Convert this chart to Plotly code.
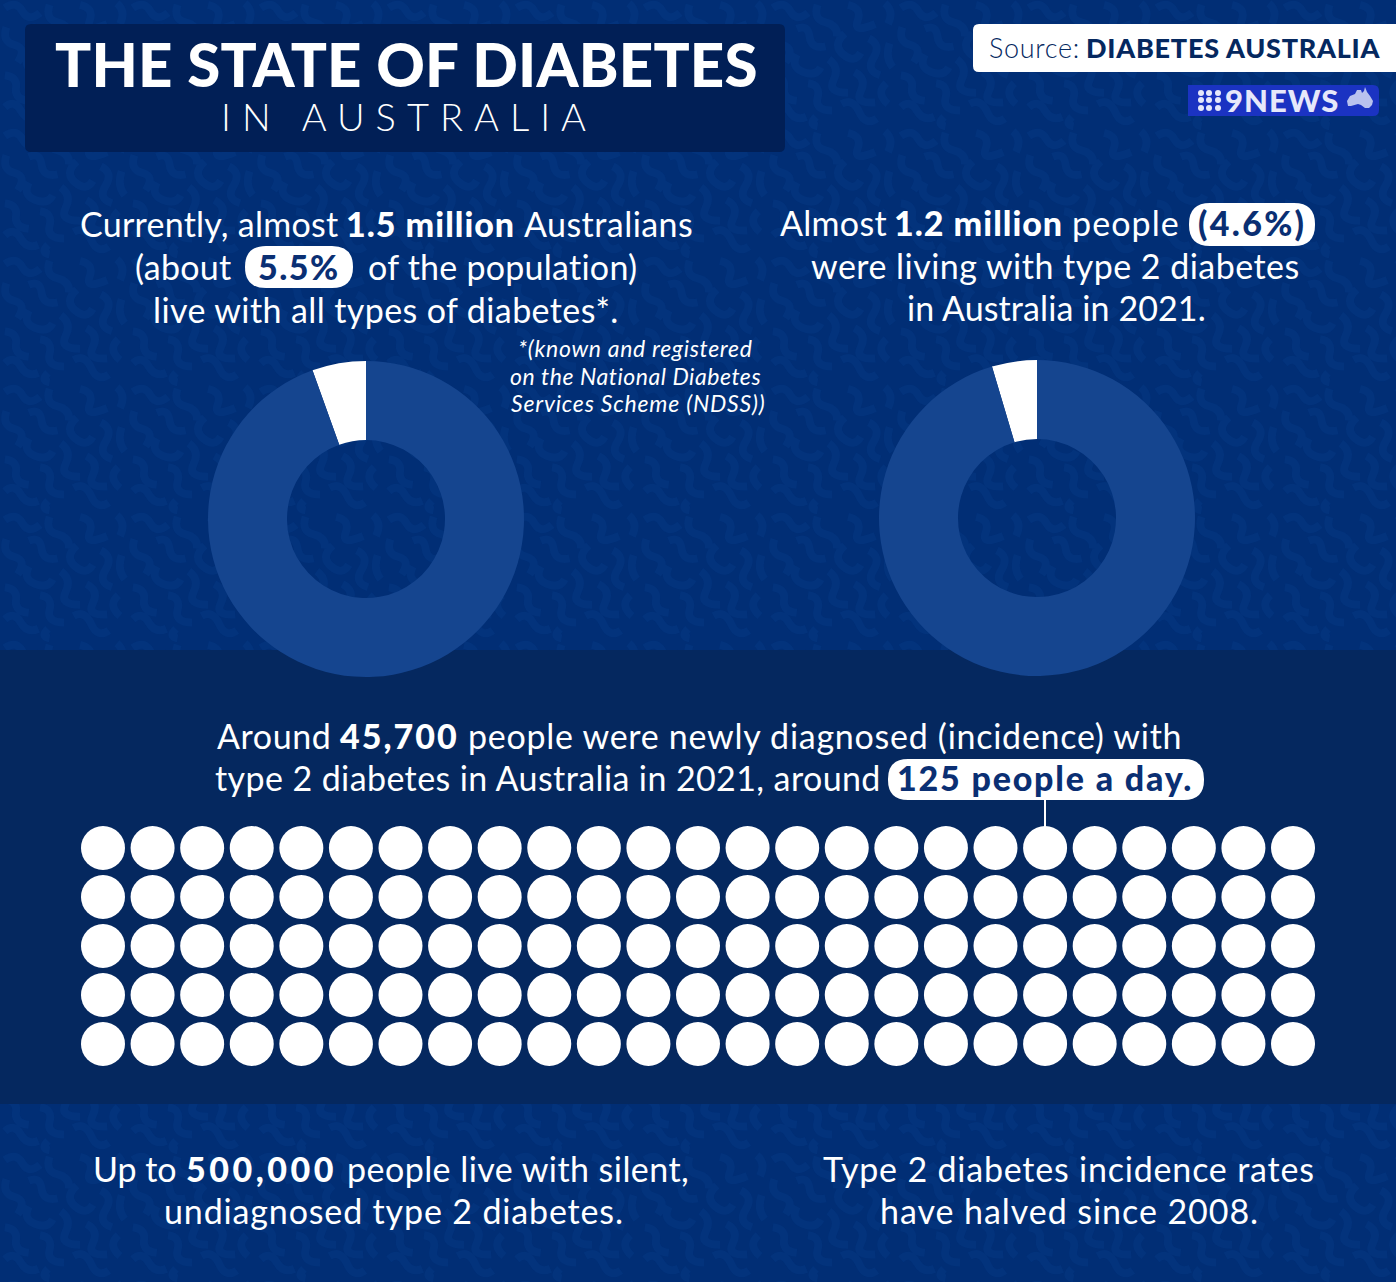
import plotly.graph_objects as go

WIDTH = 1396
HEIGHT = 1282

BG = "#012e75"
BG_LIGHT = "#03337c"
BAND = "#05285f"
TITLE_BOX = "#011f56"
NAVY = "#05285f"
RING = "#15458f"
FONT = "Lato"

# share of the population, in percent
all_types_share = [5.5, 94.5]
type2_share = [4.6, 95.4]
pie_labels = ["With diabetes", "Other"]

# one dot per person diagnosed a day (125)
dot_columns = list(range(1, 26))
dot_rows = list(range(1, 6))

title_main = "THE STATE OF DIABETES"
title_sub = "IN AUSTRALIA"

# text runs: text, left px, right px, baseline px, style, tracking px
body_runs = [
    ("Currently, almost", 80, 338, 237, "r", 0.25),
    ("1.5 million", 346, 514, 237, "b", 1),
    ("Australians", 524, 692, 237, "r", 0.45),
    ("(about", 135, 232, 280, "r", 0.3),
    ("5.5%", 259, 339, 280, "p", 1.5),
    ("of the population)", 368, 637, 280, "r", 0.25),
    ("live with all types of diabetes*.", 154, 617, 323, "r", 0.4),
    ("Almost", 780, 886, 236, "r", 0.3),
    ("1.2 million", 894, 1062, 236, "b", 1),
    ("people", 1072, 1179, 236, "r", 1.1),
    ("(4.6%)", 1197, 1306, 236, "p", 2.3),
    ("were living with type 2 diabetes", 812, 1299, 279, "r", 0.47),
    ("in Australia in 2021.", 907, 1205, 321, "r", 0.1),
    ("Around", 217, 330, 749, "r", 0.6),
    ("45,700", 339, 459, 749, "b", 2),
    ("people were newly diagnosed (incidence) with", 468, 1181, 749, "r", 0.73),
    ("type 2 diabetes in Australia in 2021, around", 216, 880, 791, "r", 0.4),
    ("125 people a day.", 898, 1192, 791, "p", 1.8),
    ("Up to", 93, 176, 1182, "r", 0),
    ("500,000", 185, 338, 1182, "b", 3.5),
    ("people live with silent,", 347, 688, 1182, "r", 0.45),
    ("undiagnosed type 2 diabetes.", 165, 623, 1224, "r", 0.85),
    ("Type 2 diabetes incidence rates", 824, 1314, 1182, "r", 0.8),
    ("have halved since 2008.", 880, 1258, 1224, "r", 0.95),
]
footnote_lines = [
    ("*(known and registered", 635, 357, 0.7),
    ("on the National Diabetes", 635, 385, 0.55),
    ("Services Scheme (NDSS))", 638, 412, 0.8),
]

# squiggles of the background, one 160 px tile before scaling
tile_worms = [
    "M6 10 Q20 0 28 14 T50 16", "M62 6 Q56 24 72 28 T86 46", "M100 6 Q118 10 112 26 T134 30",
    "M146 4 Q158 14 150 30", "M8 34 Q2 52 18 56 T22 78", "M36 36 Q50 30 52 46 T72 58",
    "M96 42 Q80 56 94 68 T116 66", "M126 48 Q142 56 132 72 T140 94", "M36 68 Q28 84 44 90 T66 84",
    "M76 74 Q90 84 82 100 T100 116", "M152 54 Q146 72 156 84", "M6 94 Q22 96 20 110 T36 126",
    "M108 90 Q124 98 116 114 T134 128", "M50 104 Q66 106 62 122 T80 138", "M148 104 Q134 116 150 130",
    "M6 134 Q18 124 26 138 T48 146", "M92 130 Q106 122 114 140 T136 148", "M60 146 Q50 156 62 158",
]
TILE_SCALE = 0.8


def tracked(text, px):
    if not px:
        return text
    return f'<span style="letter-spacing:{px}px">{text}</span>'


def text_run(text, left, right, baseline, style, track):
    weight = 900 if style in ("b", "p") else "normal"
    color = "#0a2f73" if style == "p" else "white"
    return dict(
        text=tracked(text, track), x=(left + right) / 2, y=baseline - 14, xref="x", yref="y", xanchor="center",
        yanchor="middle", showarrow=False, font=dict(family=FONT, size=34, color=color, weight=weight),
    )


def rounded(x0, y0, x1, y1, r, fill):
    path = (f"M{x0 + r} {y0} L{x1 - r} {y0} Q{x1} {y0} {x1} {y0 + r} L{x1} {y1 - r} Q{x1} {y1} {x1 - r} {y1} "
            f"L{x0 + r} {y1} Q{x0} {y1} {x0} {y1 - r} L{x0} {y0 + r} Q{x0} {y0} {x0 + r} {y0} Z")
    return dict(type="path", path=path, xref="x", yref="y", fillcolor=fill, line_width=0, layer="below")


def shift_path(path, dx, dy):
    out = []
    is_x = True
    for tok in path.split():
        cmd = tok[0] if tok[0].isalpha() else ""
        num = float(tok[len(cmd):]) * TILE_SCALE
        out.append(f"{cmd}{num + (dx if is_x else dy):g}")
        is_x = not is_x
    return " ".join(out)


def pie_domain(cx, cy, r):
    return dict(x=[(cx - r) / WIDTH, (cx + r) / WIDTH], y=[1 - (cy + r) / HEIGHT, 1 - (cy - r) / HEIGHT])


def donut(values, domain):
    # white slice ends at 12 o'clock, so start it one slice before
    return go.Pie(
        values=values, labels=pie_labels, hole=0.5, sort=False, direction="clockwise", rotation=-values[0] * 3.6,
        marker=dict(colors=["white", RING], line=dict(width=0)), textinfo="none", hoverinfo="skip",
        showlegend=False, domain=domain,
    )


fig = go.Figure()
fig.add_trace(donut(all_types_share, pie_domain(366, 519, 158)))
fig.add_trace(donut(type2_share, pie_domain(1037, 518, 158)))

# keeps the pixel axes alive for shapes and annotations
fig.add_trace(go.Scatter(x=[0, WIDTH], y=[0, HEIGHT], mode="none", hoverinfo="skip", showlegend=False))

dot_x = [c for r in dot_rows for c in dot_columns]
dot_y = [r for r in dot_rows for c in dot_columns]
fig.add_trace(go.Scatter(
    x=dot_x, y=dot_y, xaxis="x2", yaxis="y2", mode="markers", marker=dict(size=44, color="white", line_width=0),
    hoverinfo="skip", showlegend=False,
))

tile = 160 * TILE_SCALE
texture = " ".join(
    shift_path(w, col * tile, row * tile) for row in range(11) for col in range(11) for w in tile_worms
)
shapes = [
    dict(type="path", path=texture, xref="x", yref="y", line=dict(color=BG_LIGHT, width=8), layer="below"),
    dict(type="rect", x0=0, x1=WIDTH, y0=650, y1=1104, xref="x", yref="y", fillcolor=BAND, line_width=0,
         layer="below"),
    rounded(25, 24, 785, 152, 6, TITLE_BOX),
    dict(type="path", xref="x", yref="y", fillcolor="white", line_width=0, layer="below",
         path="M979 24 L1396 24 L1396 72 L979 72 Q973 72 973 66 L973 30 Q973 24 979 24 Z"),
    dict(type="line", x0=1045, x1=1045, y0=798, y1=830, xref="x", yref="y", line=dict(color="white", width=2),
         layer="below"),
    rounded(245, 246, 353, 288, 21, "white"),
    rounded(1189, 203, 1315, 246, 21, "white"),
    rounded(888, 759, 1204, 800, 20, "white"),
    dict(type="path", xref="x", yref="y", fillcolor="#1b33c2", line_width=0, layer="below",
         path="M1188 85 L1373 85 Q1379 85 1379 91 L1379 110 Q1379 116 1373 116 L1188 116 Z"),
]
# the nine dots of the logo
for lx in (1201, 1209, 1218):
    for ly in (93, 100, 108):
        shapes.append(dict(type="circle", x0=lx - 3, x1=lx + 3, y0=ly - 3, y1=ly + 3, xref="x", yref="y",
                           fillcolor="#e6e8fa", line_width=0))
# map of Australia in the logo
shapes.append(dict(type="path", xref="x", yref="y", fillcolor="#b9c2ee", line_width=0,
                   path="M1347 101 L1350 96 L1355 94 L1357 90 L1361 90 L1362 93 L1364 91 L1365 87 L1367 92 "
                        "L1370 96 L1373 101 L1372 105 L1369 108 L1365 108 L1361 105 L1358 104 L1351 106 L1348 106 Z"))

annotations = [text_run(*run) for run in body_runs]
annotations += [
    dict(text=tracked(title_main, 0.2), x=406, y=64, xref="x", yref="y",
         showarrow=False, font=dict(family=FONT, size=60, color="white", weight=900)),
    dict(text=tracked(title_sub, 11), x=409, y=116, xref="x", yref="y",
         showarrow=False, font=dict(family=FONT, size=38, color="white", weight=300)),
    dict(text=tracked("Source:", 0.7), x=1034, y=47, xref="x", yref="y", showarrow=False,
         font=dict(family=FONT, size=27, color=NAVY, weight=300)),
    dict(text=tracked("DIABETES AUSTRALIA", 0.75), x=1233, y=47, xref="x", yref="y", showarrow=False,
         font=dict(family=FONT, size=27, color=NAVY, weight=900)),
    dict(text=tracked("9NEWS", 1), x=1282, y=100, xref="x", yref="y", showarrow=False,
         font=dict(family=FONT, size=31, color="#e6e8fa", weight=900)),
]
for text, cx, base, track in footnote_lines:
    annotations.append(dict(text=f"<i>{tracked(text, track)}</i>", x=cx, y=base - 9, xref="x", yref="y",
                            showarrow=False, font=dict(family=FONT, size=23, color="white")))

fig.update_layout(
    width=WIDTH, height=HEIGHT, margin=dict(l=0, r=0, t=0, b=0), paper_bgcolor=BG, plot_bgcolor="rgba(0,0,0,0)",
    shapes=shapes, annotations=annotations, showlegend=False,
    xaxis=dict(domain=[0, 1], range=[0, WIDTH], visible=False, fixedrange=True),
    yaxis=dict(domain=[0, 1], range=[HEIGHT, 0], visible=False, fixedrange=True),
    xaxis2=dict(domain=[78.2 / WIDTH, 1317.8 / WIDTH], range=[0.5, 25.5], visible=False, anchor="y2",
                fixedrange=True),
    yaxis2=dict(domain=[1 - 1068.5 / HEIGHT, 1 - 823.5 / HEIGHT], range=[5.5, 0.5], visible=False, anchor="x2",
                fixedrange=True),
)

fig.write_html("out.html", post_script="document.body.style.margin='0';", config=dict(displayModeBar=False))
